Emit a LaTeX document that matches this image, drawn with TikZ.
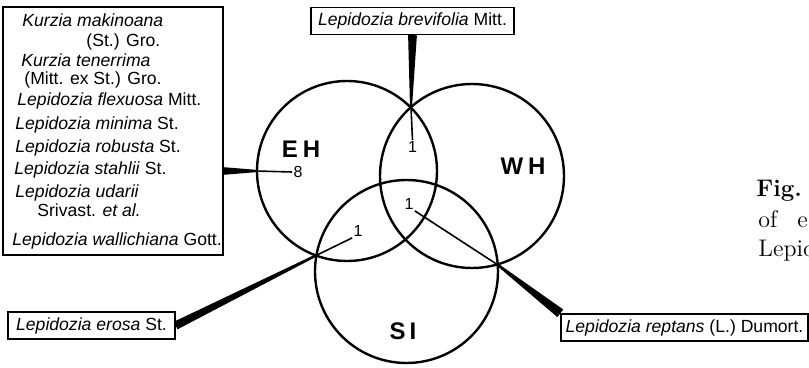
\documentclass[tikz,border=0pt]{standalone}
\usepackage{fontspec}
\newfontfamily\labfont{Liberation Sans}
\usetikzlibrary{calc}
\def\taper(#1)(#2)(#3:#4){\fill ($(#1)!#3!90:(#2)$) -- ($(#1)!#3!-90:(#2)$) -- ($(#2)!#4!90:(#1)$) -- ($(#2)!#4!-90:(#1)$) -- cycle;}

\begin{document}
\begin{tikzpicture}[x=0.5pt,y=-0.5pt,
	zone/.style={circle,draw,line width=1.2pt,inner sep=0pt},
	zlab/.style={inner sep=0pt,font=\labfont\bfseries\fontsize{12}{14}\selectfont},
	cnt/.style={inner sep=0.5pt,font=\labfont\fontsize{8}{9}\selectfont},
	sbox/.style={draw,line width=0.7pt,inner sep=0pt,minimum height=13.5pt,font=\labfont\fontsize{8.8}{10.5}\selectfont},
	entry/.style={anchor=base west,inner sep=0pt,font=\labfont\fontsize{8.8}{10.5}\selectfont},
	figtext/.style={anchor=base west,inner sep=0pt,font=\fontsize{12}{14}\selectfont},
	thin/.style={line width=0.8pt}]
			%%%%% START %%%%%
			\useasboundingbox (0,0) rectangle (809,368);
			
			% the three regions
			\node[zone,minimum size=90pt] (eh) at (347,171) {};
			\node[zone,minimum size=92pt] (wh) at (472,176) {};
			\node[zone,minimum size=91.5pt] (si) at (406.5,271.5) {};
			
			\node[zlab] (ehl) at (301,149) {E\hspace{2.5pt}H};
			\node[zlab] (whl) at (523,166) {W\hspace{2.5pt}H};
			\node[zlab] (sil) at (403,331) {S\hspace{2pt}I};
			
			% crossings of the circles
			\coordinate (ehwh) at (411,107);
			\coordinate (ehsi) at (315,256);
			\coordinate (whsi) at (498,265);
			
			% counts
			\node[cnt] (n8) at (298,172) {8};
			\node[cnt] (n1t) at (412.5,147) {1};
			\node[cnt] (n1c) at (409,204) {1};
			\node[cnt] (n1l) at (358,231) {1};
			
			% species boxes
			\node[sbox,minimum width=101.5pt] (brev) at (412.5,21) {\textit{Lepidozia brevifolia} Mitt.};
			\node[sbox,minimum width=83.5pt] (eros) at (91.5,325.5) {\textit{Lepidozia erosa} St.};
			\node[sbox,minimum width=123.5pt] (rept) at (684.5,327.5) {\textit{Lepidozia reptans} (L.) Dumort.};
			\node[sbox,minimum width=110pt,minimum height=124pt] (ehbox) at (113,131) {};
			
			\node[entry] (l1) at (22,27) {\textit{Kurzia makinoana}};
			\node[entry] (l2) at (86,47) {(St.) Gro.};
			\node[entry] (l3) at (21,67) {\textit{Kurzia tenerrima}};
			\node[entry] (l4) at (24,85) {(Mitt. ex St.) Gro.};
			\node[entry] (l5) at (17,106) {\textit{Lepidozia flexuosa} Mitt.};
			\node[entry] (l6) at (15,130) {\textit{Lepidozia minima} St.};
			\node[entry] (l7) at (15,153) {\textit{Lepidozia robusta} St.};
			\node[entry] (l8) at (14,175) {\textit{Lepidozia stahlii} St.};
			\node[entry] (l9) at (15,198) {\textit{Lepidozia udarii}};
			\node[entry] (l10) at (37,217) {Srivast. \textit{et al.}};
			\node[entry] (l11) at (12,246) {\textit{Lepidozia wallichiana} Gott.};
			
			% leaders
			\coordinate (lw) at (ehbox.east |- eh.west);
			\taper(brev.south)(ehwh)(2.2pt:0.5pt)
			\draw[thin] (ehwh) -- (n1t.north);
			\taper(lw)(eh.west)(1.9pt:0.6pt)
			\draw[thin] (eh.west) -- (n8.west);
			\taper(eros.east)(ehsi)(2.1pt:0.6pt)
			\draw[thin] (ehsi) -- (n1l.south west);
			\taper(rept.north west)(whsi)(2.4pt:0.6pt)
			\draw[thin] (whsi) -- (n1c.south east);
			
			% caption, cut at the edge
			\begin{scope}
			\clip (0,0) rectangle (809,368);
			\node[figtext] (fig1) at (756,197) {\textbf{Fig.}};
			\node[figtext] (fig2) at (758,228) {of\hspace{10pt}e};
			\node[figtext] (fig3) at (758,257) {Lepid};
			\end{scope}
			%%%%% END %%%%%
\end{tikzpicture}
\end{document}
